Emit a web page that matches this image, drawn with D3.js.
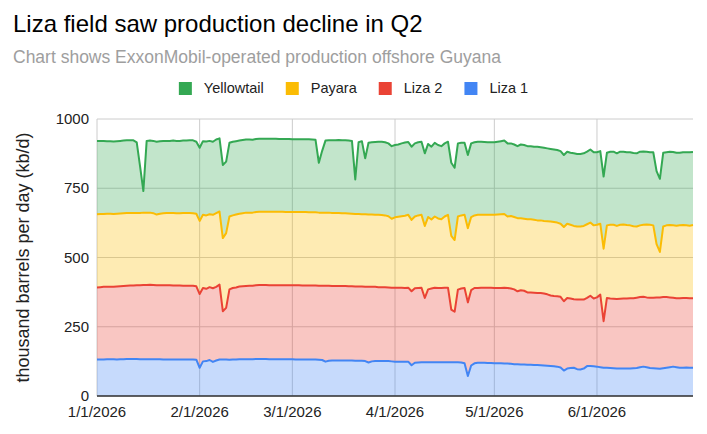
<!DOCTYPE html>
<html>
<head>
<meta charset="utf-8">
<script src="https://cdn.jsdelivr.net/npm/d3@7"></script>
<style>
  body { margin: 0; background: #fff; }
  svg { font-family: Arial, "Liberation Sans", sans-serif; }
</style>
</head>
<body>
<div id="chart"></div>
<script>
// daily values, kb/d, starting 1/1/2026
const startDate = new Date(2026, 0, 1);

const liza1 = [
  132,132,132,133,133,133,132,133,133,134, 134,134,134,133,133,133,133,133,133,133,
  132,132,132,132,132,132,132,132,132,132, 131,102,125,126,130,123,128,132,132,132,
  131,132,132,133,133,133,133,133,134,134, 134,134,133,133,133,133,133,133,133,133,
  132,132,132,132,132,132,132,131,130,124, 127,128,128,128,128,128,128,128,127,127,
  127,126,121,125,126,126,126,126,126,125, 124,124,124,124,124,111,120,121,122,122,
  122,122,122,122,122,122,122,122,122,122, 121,118,72,110,118,120,120,120,119,119,
  118,118,118,117,117,116,115,115,114,114, 113,113,112,112,111,110,109,108,107,106,
  103,92,99,101,102,97,96,99,108,108, 107,106,104,102,102,101,100,99,99,99,
  99,99,100,101,104,106,104,101,100,99, 98,100,102,104,106,104,102,102,103,102,
  102
];

const liza2 = [
  260,261,262,261,261,261,263,263,264,264, 265,265,266,267,268,268,269,268,267,267,
  268,268,268,267,267,267,266,266,266,266, 265,266,265,261,263,266,266,270,174,186,
  254,258,260,262,263,264,265,265,266,267, 267,267,267,267,267,267,267,267,267,267,
  268,268,267,267,267,267,267,267,268,274, 271,269,269,269,269,269,268,268,268,268,
  268,268,273,269,268,267,267,267,266,266, 267,267,267,266,267,267,269,269,269,232,
  263,266,269,268,268,269,269,190,182,262, 267,272,266,272,272,270,271,271,272,272,
  272,272,272,274,273,272,270,263,268,266, 261,261,261,260,261,260,258,255,254,254,
  255,250,255,251,247,251,252,249,246,254, 245,250,262,168,252,251,251,251,252,253,
  253,254,253,254,253,252,252,254,255,257, 258,257,255,252,249,249,251,252,251,251,
  251
];

const payara = [
  264,264,263,264,264,263,263,263,263,263, 262,262,261,261,261,261,260,259,255,258,
  260,261,261,262,261,261,263,263,263,262, 262,264,264,265,263,265,266,264,264,270,
  263,262,263,263,264,265,264,264,264,264, 264,264,265,265,265,265,265,264,264,264,
  264,264,265,265,264,264,264,264,264,264, 264,264,264,264,263,263,263,262,262,262,
  261,262,261,261,260,261,260,259,257,249, 254,256,258,261,263,258,259,262,263,260,
  261,249,257,251,248,257,263,266,259,264, 264,264,268,264,262,264,263,263,263,263,
  264,265,266,266,258,262,261,264,260,260, 264,264,263,262,262,262,264,267,267,266,
  264,268,268,266,265,264,264,266,266,264, 264,262,256,262,262,266,267,264,267,267,
  265,263,260,257,259,260,263,263,261,192, 164,255,259,261,261,262,263,263,262,262,
  264
];

const yellowtail = [
  265,264,264,262,262,262,262,262,262,262, 262,262,255,169,78,259,260,261,263,262,
  261,260,260,261,261,261,261,261,262,263, 260,264,266,267,265,264,266,264,264,258,
  266,266,265,264,264,264,264,263,264,264, 264,264,264,264,264,263,263,264,264,263,
  263,263,263,263,264,263,262,180,223,260, 261,262,262,263,263,263,263,263,125,259,
  264,202,259,261,263,264,265,264,263,262, 261,261,263,264,263,264,264,264,264,262,
  264,263,266,265,264,264,264,264,261,264, 262,260,264,266,264,264,264,263,262,262,
  262,263,264,265,264,262,262,260,266,266, 264,264,264,266,264,264,263,262,262,262,
  262,260,260,260,262,262,262,262,262,264, 264,262,262,260,262,264,264,262,264,263,
  263,264,264,264,266,265,263,262,264,264, 264,266,264,265,265,263,262,263,264,265,
  264
];

// stacked bottom to top; legend lists them top to bottom
const seriesKeys = ['Liza 1', 'Liza 2', 'Payara', 'Yellowtail'];
const seriesColors = { 'Liza 1': '#4285f4', 'Liza 2': '#ea4335', 'Payara': '#fbbc04', 'Yellowtail': '#34a853' };
const yTicks = [0, 250, 500, 750, 1000];

const width = 707;
const height = 434;
const margin = { top: 119, right: 14, bottom: 38, left: 97 };

const rows = liza1.map((v, i) => ({
    date: d3.timeDay.offset(startDate, i),
    'Liza 1': v,
    'Liza 2': liza2[i],
    'Payara': payara[i],
    'Yellowtail': yellowtail[i]
}));

const svg = d3.select('#chart').append('svg')
    .attr('width', width)
    .attr('height', height);

const x = d3.scaleTime()
    .domain(d3.extent(rows, d => d.date))
    .range([margin.left, width - margin.right]);

const y = d3.scaleLinear()
    .domain([0, 1000])
    .range([height - margin.bottom, margin.top]);

// title + subtitle
svg.append('text')
    .attr('x', 13).attr('y', 32)
    .attr('font-size', 24)
    .attr('fill', '#000')
    .text('Liza field saw production decline in Q2');

svg.append('text')
    .attr('x', 13).attr('y', 63)
    .attr('font-size', 17.5)
    .attr('fill', '#9e9e9e')
    .text('Chart shows ExxonMobil-operated production offshore Guyana');

// legend, centered across the whole width
const legend = svg.append('g');
let lx = 0;
seriesKeys.slice().reverse().forEach(key => {
    const item = legend.append('g').attr('transform', `translate(${lx},0)`);
    item.append('rect')
        .attr('x', 0).attr('y', 82)
        .attr('width', 13).attr('height', 13)
        .attr('fill', seriesColors[key]);
    const t = item.append('text')
        .attr('x', 25).attr('y', 93)
        .attr('font-size', 14.5)
        .attr('fill', '#222')
        .text(key);
    lx += 25 + t.node().getComputedTextLength() + 22;
});
legend.attr('transform', `translate(${(width - (lx - 22)) / 2},0)`);

// gridlines
const monthTicks = d3.timeMonth.range(startDate, d3.timeDay.offset(x.domain()[1], 1));

svg.append('g')
    .selectAll('line')
    .data(yTicks)
    .join('line')
    .attr('x1', margin.left).attr('x2', width - margin.right)
    .attr('y1', d => y(d)).attr('y2', d => y(d))
    .attr('stroke', '#cccccc')
    .attr('stroke-width', 1);

svg.append('g')
    .selectAll('line')
    .data(monthTicks)
    .join('line')
    .attr('x1', d => x(d)).attr('x2', d => x(d))
    .attr('y1', margin.top).attr('y2', height - margin.bottom)
    .attr('stroke', '#cccccc')
    .attr('stroke-width', 1);

// stacked areas
const stacked = d3.stack().keys(seriesKeys)(rows);

const area = d3.area()
    .x(d => x(d.data.date))
    .y0(d => y(d[0]))
    .y1(d => y(d[1]));

const line = d3.line()
    .x(d => x(d.data.date))
    .y(d => y(d[1]));

svg.append('g')
    .selectAll('path')
    .data(stacked)
    .join('path')
    .attr('d', area)
    .attr('fill', d => seriesColors[d.key])
    .attr('fill-opacity', 0.3);

svg.append('g')
    .selectAll('path')
    .data(stacked)
    .join('path')
    .attr('d', line)
    .attr('fill', 'none')
    .attr('stroke', d => seriesColors[d.key])
    .attr('stroke-width', 2)
    .attr('stroke-linejoin', 'round');

// baseline
svg.append('line')
    .attr('x1', margin.left).attr('x2', width - margin.right)
    .attr('y1', y(0)).attr('y2', y(0))
    .attr('stroke', '#333')
    .attr('stroke-width', 1.5);

// axis labels
svg.append('g')
    .selectAll('text')
    .data(yTicks)
    .join('text')
    .attr('x', margin.left - 8)
    .attr('y', d => y(d) + 5)
    .attr('text-anchor', 'end')
    .attr('font-size', 15)
    .attr('fill', '#222')
    .text(d => d);

const fmt = d3.timeFormat('%-m/%-d/%Y');
svg.append('g')
    .selectAll('text')
    .data(monthTicks)
    .join('text')
    .attr('x', d => x(d))
    .attr('y', height - margin.bottom + 21)
    .attr('text-anchor', 'middle')
    .attr('font-size', 15)
    .attr('fill', '#222')
    .text(d => fmt(d));

svg.append('text')
    .attr('transform', `translate(29,${(margin.top + height - margin.bottom) / 2}) rotate(-90)`)
    .attr('text-anchor', 'middle')
    .attr('font-size', 18)
    .attr('fill', '#222')
    .text('thousand barrels per day (kb/d)');
</script>
</body>
</html>
